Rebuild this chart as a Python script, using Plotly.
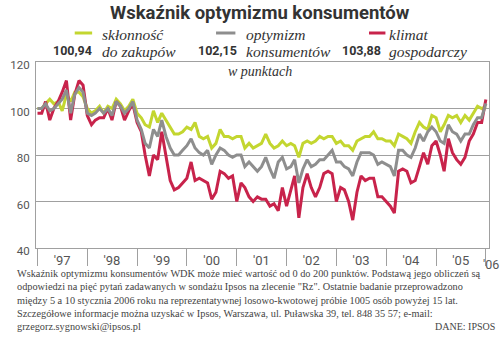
import pandas as pd
import plotly.graph_objects as go

# ---------------- data ----------------
MONTHS = pd.date_range("1997-01-01", periods=109, freq="MS")

SKLONNOSC = [100, 100, 102, 104, 102, 103, 99, 106, 103, 107, 107, 105,
             100, 98, 99, 101, 98, 101, 100, 104, 102, 99, 101, 104,
             98, 96, 93, 92, 99, 94, 98, 95, 92, 89, 89, 90,
             92, 91, 94, 88, 87, 88, 83, 85, 91, 88, 88, 87,
             88, 88, 83, 85, 83, 84, 85, 89, 85, 83, 84, 86,
             84, 85, 84, 79, 85, 86, 85, 86, 88, 87, 88, 88,
             85, 86, 84, 84, 82, 86, 87, 88, 88, 90, 87, 87,
             86, 86, 84, 89, 88, 87, 85, 90, 94, 92, 91, 97,
             96, 90, 93, 97, 96, 97, 94, 97, 95, 98, 101, 100,
             100.94]

OPTYMIZM = [100, 100, 102, 99, 100, 102, 104, 108, 98, 106, 109, 107,
            98, 97, 98, 100, 98, 100, 97, 103, 101, 98, 100, 103,
            95, 91, 85, 83, 91, 88, 95, 88, 83, 80, 80, 82,
            84, 87, 83, 81, 80, 82, 76, 80, 83, 82, 80, 79,
            80, 80, 75, 77, 75, 73, 75, 79, 74, 70, 77, 79,
            74, 75, 78, 68, 74, 78, 75, 76, 78, 78, 80, 82,
            77, 77, 75, 74, 71, 77, 81, 81, 81, 80, 76, 77,
            76, 75, 71, 82, 82, 80, 79, 83, 89, 86, 90, 92,
            90, 86, 85, 93, 90, 89, 86, 89, 89, 93, 96, 96,
            102.15]

KLIMAT = [98, 98, 103, 95, 100, 103, 107, 112, 95, 106, 112, 110,
          97, 93, 95, 96, 96, 100, 95, 103, 101, 95, 99, 102,
          94, 90, 80, 71, 80, 78, 90, 80, 69, 65, 66, 68,
          70, 77, 69, 70, 69, 68, 61, 64, 73, 72, 70, 71,
          60, 68, 66, 62, 60, 62, 61, 61, 58, 59, 56, 66,
          58, 65, 71, 53, 66, 72, 66, 62, 66, 72, 73, 72,
          60, 66, 65, 60, 52, 64, 71, 69, 70, 70, 62, 62,
          60, 58, 55, 73, 74, 73, 68, 69, 75, 81, 76, 84,
          86, 80, 73, 87, 81, 78, 76, 79, 86, 89, 94, 94,
          103.88]

SERIES_NAMES = [["skłonność", "do zakupów"],
                ["optymizm", "konsumentów"],
                ["klimat", "gospodarczy"]]
LAST_VALUES = ["100,94", "102,15", "103,88"]

YEAR_TICKS = pd.date_range("1997-07-01", periods=9, freq="12MS")
YEAR_LABELS = ["'97", "'98", "'99", "'00", "'01", "'02", "'03", "'04", "'05"]
LAST_YEAR_LABEL = "'06"
Y_TICKS = [40, 60, 80, 100, 120]

TITLE = "Wskaźnik optymizmu konsumentów"
UNIT = "w punktach"
FOOTER = [
    "Wskaźnik optymizmu konsumentów WDK może mieć wartość od 0 do 200 punktów. Podstawą jego obliczeń są",
    "odpowiedzi na pięć pytań zadawanych w sondażu Ipsos na zlecenie \"Rz\". Ostatnie badanie przeprowadzono",
    "między 5 a 10 stycznia 2006 roku na reprezentatywnej losowo-kwotowej próbie 1005 osób powyżej 15 lat.",
    "Szczegółowe informacje można uzyskać w Ipsos, Warszawa, ul. Puławska 39, tel. 848 35 57; e-mail:",
    "grzegorz.sygnowski@ipsos.pl",
]
SOURCE = "DANE: IPSOS"

# ---------------- style ----------------
GREEN = "#c3d630"
GRAY = "#8e8e8e"
RED = "#c8234b"
GRID = "#a0a0a0"
TXT = "#555555"

L, R, T, B = 22, 490, 62, 248
W, H = R - L, B - T


def px(x):
    return (x - L) / W


def py(y):
    return (B - y) / H


fig = go.Figure()
for vals, col in [(SKLONNOSC, GREEN), (KLIMAT, RED), (OPTYMIZM, GRAY)]:
    fig.add_trace(go.Scatter(x=MONTHS, y=vals, mode="lines",
                             line=dict(color=col, width=3), hoverinfo="skip"))

fig.update_layout(
    width=500, height=340,
    margin=dict(l=L, r=500 - R, t=T, b=340 - B),
    paper_bgcolor="white", plot_bgcolor="white",
    showlegend=False,
    font=dict(family="Roboto", color=TXT),
)

fig.update_xaxes(
    range=[pd.Timestamp("1996-12-21"), pd.Timestamp("2006-01-24")],
    tickvals=YEAR_TICKS, ticktext=YEAR_LABELS,
    ticks="", tickfont=dict(size=13, color=TXT, family="Roboto"),
    showgrid=False, showline=True, linecolor=GRID, linewidth=1, mirror=True,
    minor=dict(dtick="M12", tick0="1997-01-01", ticks="outside",
               ticklen=17, tickcolor=GRID, tickwidth=1, showgrid=False),
    zeroline=False, fixedrange=True,
)
fig.update_yaxes(
    range=[40, 120], tickvals=Y_TICKS,
    ticks="", tickfont=dict(size=11.5, color=TXT, family="Roboto"),
    showgrid=True, gridcolor=GRID, gridwidth=1,
    showline=True, linecolor=GRID, linewidth=1, mirror=True,
    zeroline=False, fixedrange=True, ticklabelstandoff=3, ticklabelshift=3,
)

ann = []


def note(x, y, text, size, family, color="#333333", xanchor="left"):
    ann.append(dict(x=px(x), y=py(y), xref="paper", yref="paper", text=text,
                    showarrow=False, xanchor=xanchor, yanchor="middle",
                    font=dict(size=size, color=color, family=family)))


# title
note(253, 13, f"<b>{TITLE}</b>", 18.5, "Roboto", xanchor="center")
# legend
leg = [(62, 80, 88, 82, GREEN), (208, 228, 237, 232, GRAY), (366, 383, 385, 380, RED)]
for (x0, x1, tx, vx, col), name, val in zip(leg, SERIES_NAMES, LAST_VALUES):
    fig.add_shape(type="line", xref="paper", yref="paper",
                  x0=px(x0), x1=px(x1), y0=py(33), y1=py(33),
                  line=dict(color=col, width=3))
    note(tx, 35, f"<i>{name[0]}</i>", 15.5, "Liberation Serif")
    note(tx, 51, f"<i>{name[1]}</i>", 15.5, "Liberation Serif")
    note(vx, 50, f"<b>{val}</b>", 12.5, "Roboto", xanchor="right")
# unit
note(253, 71, f"<i>{UNIT}</i>", 14, "Liberation Serif", xanchor="center")
# last year label
note(492, 264, LAST_YEAR_LABEL, 12.5, "Roboto", color=TXT, xanchor="center")
# footer
for i, line in enumerate(FOOTER):
    note(0, 273.5 + i * 13.3, line, 10.3, "Liberation Serif", color="#444444")
note(498, 326.7, SOURCE, 10, "Liberation Serif", color="#444444", xanchor="right")

fig.update_layout(annotations=ann)
fig.write_html("out.html")
